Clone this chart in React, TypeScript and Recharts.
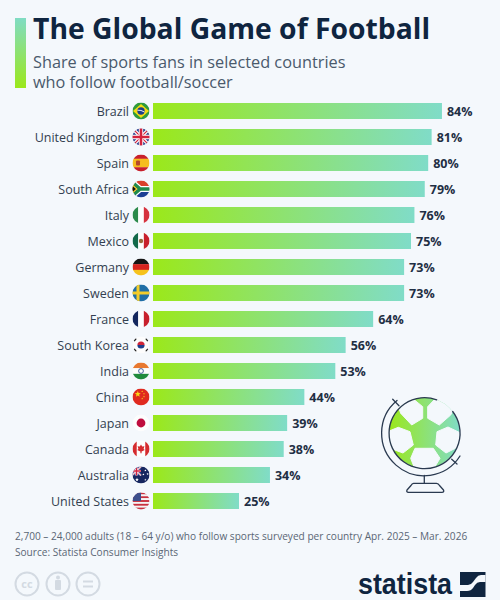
import { BarChart, Bar, XAxis, YAxis, LabelList } from "recharts";

const countries = ["Brazil", "United Kingdom", "Spain", "South Africa", "Italy", "Mexico", "Germany", "Sweden", "France", "South Korea", "India", "China", "Japan", "Canada", "Australia", "United States"];
const shares = [84, 81, 80, 79, 76, 75, 73, 73, 64, 56, 53, 44, 39, 38, 34, 25];
const rows = countries.map((country, i) => ({ country, share: shares[i] }));

const BG = "#f4f8fc";
const DARK = "#0f2540";
const R = 8.5;

// white panels of the ball on the globe
const hexagons = [
  "413.3,399 422.7,406.7 422.7,418.3 411.7,425 400.7,413.3 395,398",
  "435,399 427.7,406.7 427.7,418.3 439.3,425 450.7,415 454,408 445,396",
  "398.3,427.3 410,431.7 413.3,445 403,453 392,449 383,433.5",
  "448,427 437,431.7 435.7,445 446,453 458,447 467,436",
  "415,448.3 433.3,448.3 440,458.3 433.3,469.5 415,469.5 410.7,458.3",
];

const star = (cx: number, cy: number, r: number) => {
  const pts: string[] = [];
  for (let i = 0; i < 10; i++) {
    const a = -Math.PI / 2 + (i * Math.PI) / 5;
    const q = i % 2 ? r * 0.42 : r;
    pts.push(`${cx + q * Math.cos(a)},${cy + q * Math.sin(a)}`);
  }
  return pts.join(" ");
};

const Stripes = ({ colors }: { colors: string[] }) => (
  <>
    {colors.map((c, i) => (
      <rect key={i} x={-R} y={-R + (i * 2 * R) / colors.length} width={2 * R} height={(2 * R) / colors.length + 0.2} fill={c} />
    ))}
  </>
);

const Bands = ({ colors }: { colors: string[] }) => (
  <>
    {colors.map((c, i) => (
      <rect key={i} x={-R + (i * 2 * R) / colors.length} y={-R} width={(2 * R) / colors.length + 0.2} height={2 * R} fill={c} />
    ))}
  </>
);

const Union = () => (
  <>
    <rect x={-R} y={-R} width={2 * R} height={2 * R} fill="#283f8c" />
    <path d="M-9,-9L9,9M9,-9L-9,9" stroke="#fff" strokeWidth={3.4} />
    <path d="M-9,-9L9,9M9,-9L-9,9" stroke="#d4213d" strokeWidth={1.2} />
    <path d="M0,-9V9M-9,0H9" stroke="#fff" strokeWidth={4.4} />
    <path d="M0,-9V9M-9,0H9" stroke="#d4213d" strokeWidth={2.6} />
  </>
);

const flags: Record<string, () => React.ReactNode> = {
  Brazil: () => (
    <>
      <rect x={-R} y={-R} width={2 * R} height={2 * R} fill="#2f9b3c" />
      <polygon points="0,-7 8,0 0,7 -8,0" fill="#f4dc12" />
      <circle r={3.7} fill="#1f3f86" />
      <path d="M-3.6,-0.8Q0,-1.2 3.5,1" stroke="#fff" strokeWidth={0.9} fill="none" />
    </>
  ),
  "United Kingdom": () => <Union />,
  Spain: () => (
    <>
      <Stripes colors={["#c8202c", "#f5bd1e", "#f5bd1e", "#c8202c"]} />
      <rect x={-5} y={-2.6} width={4} height={5} rx={1} fill="#b5482a" />
    </>
  ),
  "South Africa": () => (
    <>
      <rect x={-R} y={-R} width={2 * R} height={R} fill="#d9412b" />
      <rect x={-R} y={0} width={2 * R} height={R} fill="#1c3f94" />
      <path d="M-9,-7L-1,0L-9,7M-1,0H9" stroke="#fff" strokeWidth={6} fill="none" />
      <path d="M-9,-7L-1,0L-9,7M-1,0H9" stroke="#1f8a4c" strokeWidth={3.6} fill="none" />
      <polygon points="-9,-5 -3.5,0 -9,5" fill="#f6c21c" />
      <polygon points="-9,-3.4 -5.2,0 -9,3.4" fill="#111" />
    </>
  ),
  Italy: () => <Bands colors={["#2b8a4b", "#fdfdfd", "#d6323e"]} />,
  Mexico: () => (
    <>
      <Bands colors={["#12694a", "#fdfdfd", "#c8202c"]} />
      <circle r={2.2} fill="#9a6a3a" />
    </>
  ),
  Germany: () => <Stripes colors={["#141414", "#d6231f", "#f6c21c"]} />,
  Sweden: () => (
    <>
      <rect x={-R} y={-R} width={2 * R} height={2 * R} fill="#1f6ea6" />
      <path d="M-3,-9V9M-9,0H9" stroke="#f3cc2a" strokeWidth={3} />
    </>
  ),
  France: () => <Bands colors={["#14275e", "#fdfdfd", "#c8202c"]} />,
  "South Korea": () => (
    <>
      <rect x={-R} y={-R} width={2 * R} height={2 * R} fill="#fdfdfd" />
      <path d="M-3.6,0A3.6,3.6 0 0 1 3.6,0Z" fill="#cf2539" />
      <path d="M-3.6,0A3.6,3.6 0 0 0 3.6,0Z" fill="#1c3f8c" />
      <path d="M-7,-4L-5,-6.5M-7,4L-5,6.5M7,-4L5,-6.5M7,4L5,6.5" stroke="#222" strokeWidth={1.8} />
    </>
  ),
  India: () => (
    <>
      <Stripes colors={["#e8782f", "#fdfdfd", "#1f8a3c"]} />
      <circle r={2.4} fill="none" stroke="#1f3f86" strokeWidth={0.8} />
    </>
  ),
  China: () => (
    <>
      <rect x={-R} y={-R} width={2 * R} height={2 * R} fill="#e02a1f" />
      <polygon points={star(-3.2, -2.8, 3.2)} fill="#f8d717" />
      <polygon points={star(1.2, -5.6, 1)} fill="#f8d717" />
      <polygon points={star(3, -3.2, 1)} fill="#f8d717" />
      <polygon points={star(3, -0.4, 1)} fill="#f8d717" />
      <polygon points={star(1.2, 1.6, 1)} fill="#f8d717" />
    </>
  ),
  Japan: () => (
    <>
      <circle r={R} fill="#fdfdfd" />
      <circle r={4.4} fill="#bf0d3e" />
    </>
  ),
  Canada: () => (
    <>
      <Bands colors={["#d52b2e", "#fdfdfd", "#fdfdfd", "#d52b2e"]} />
      <polygon points="0,-4.6 1.2,-2.4 3.4,-2.8 2.6,0 3.8,1 0.6,2.4 0.6,4.2 -0.6,4.2 -0.6,2.4 -3.8,1 -2.6,0 -3.4,-2.8 -1.2,-2.4" fill="#d52b2e" />
    </>
  ),
  Australia: () => (
    <>
      <rect x={-R} y={-R} width={2 * R} height={2 * R} fill="#16265f" />
      <g transform="translate(-4.5,-4) scale(0.5)">
        <Union />
      </g>
      <polygon points={star(-4, 4.6, 2)} fill="#fff" />
      <polygon points={star(4.4, -4.6, 1.2)} fill="#fff" />
      <polygon points={star(6.6, -1, 1.2)} fill="#fff" />
      <polygon points={star(2.4, -0.6, 1.2)} fill="#fff" />
      <polygon points={star(4.4, 4.8, 1.2)} fill="#fff" />
    </>
  ),
  "United States": () => (
    <>
      <Stripes colors={["#c8303e", "#f4f4f4", "#c8303e", "#f4f4f4", "#c8303e", "#f4f4f4", "#c8303e", "#f4f4f4", "#c8303e"]} />
      <rect x={-R} y={-R} width={R} height={R} fill="#3d4f8c" />
    </>
  ),
};

const CountryTick = ({ x, y, payload }: any) => (
  <g transform={`translate(${x},${y})`}>
    <text x={-24} y={1} dy="0.35em" textAnchor="end" fontSize={12.5} fill="#333f50" fontFamily="'Open Sans'">
      {payload.value}
    </text>
    <g transform="translate(-12,0)" clipPath="url(#flagClip)">
      {flags[payload.value]?.()}
    </g>
  </g>
);

export default function App() {
  return (
    <div style={{ position: "absolute", left: 0, top: 0, width: 500, height: 600, background: BG, overflow: "hidden", fontFamily: "'Open Sans'" }}>
      <style>{"body{margin:0}"}</style>
      <div style={{ position: "absolute", left: 15, top: 18, width: 11, height: 70, background: "linear-gradient(#80dcc4,#9be81a)" }} />
      <div style={{ position: "absolute", left: 33, top: 8, fontSize: 28.3, fontWeight: 700, color: DARK, whiteSpace: "nowrap", lineHeight: "40px" }}>
        The Global Game of Football
      </div>
      <div style={{ position: "absolute", left: 33, top: 52, fontSize: 16.3, color: "#4a5a6c", lineHeight: "20px", whiteSpace: "nowrap" }}>
        Share of sports fans in selected countries
        <br />
        who follow football/soccer
      </div>

      <BarChart
        width={500}
        height={600}
        data={rows}
        layout="vertical"
        margin={{ top: 98, right: 3, bottom: 86, left: 0 }}
        style={{ position: "absolute", left: 0, top: 0 }}
      >
        <defs>
          <linearGradient id="barFill" x1="0" y1="0" x2="1" y2="0">
            <stop offset="0" stopColor="#9be81a" />
            <stop offset="1" stopColor="#80dcc8" />
          </linearGradient>
          <clipPath id="flagClip">
            <circle r={R} />
          </clipPath>
        </defs>
        <XAxis type="number" domain={[0, 100]} hide />
        <YAxis type="category" dataKey="country" width={153} axisLine={false} tickLine={false} tickMargin={0} tickSize={0} interval={0} tick={<CountryTick />} />
        <Bar dataKey="share" barSize={16} fill="url(#barFill)" isAnimationActive={false}>
          <LabelList dataKey="share" position="right" offset={5} dy={1} formatter={(v: any) => `${v}%`} style={{ fontSize: 12.5, fontWeight: 700, fill: "#1f2f44", fontFamily: "'Open Sans'" }} />
        </Bar>
      </BarChart>

      <svg width={500} height={600} style={{ position: "absolute", left: 0, top: 0, pointerEvents: "none" }}>
        <defs>
          <linearGradient id="ballFill" x1="0" y1="0" x2="1" y2="0">
            <stop offset="0" stopColor="#9be81a" />
            <stop offset="1" stopColor="#80dcc8" />
          </linearGradient>
          <clipPath id="ballClip">
            <circle cx={424.5} cy={433} r={35.5} />
          </clipPath>
        </defs>
        <circle cx={424.5} cy={433} r={35.5} fill="url(#ballFill)" />
        <g clipPath="url(#ballClip)">
          {hexagons.map((p) => (
            <polygon key={p} points={p} fill={BG} stroke={BG} strokeWidth={1} strokeLinejoin="round" />
          ))}
        </g>
        <g fill="none" stroke="#2a3a50" strokeWidth={1.3} strokeLinecap="round" strokeLinejoin="round">
          <path d="M436.7,399.8A35.5,35.5 0 1 0 452.7,411.5" />
          <path d="M397,400.5A42.5,42.5 0 1 0 460,456" />
          <path d="M392.7,399.3L399,405.7M451.7,459.3L457,464" />
          <path d="M424.3,475.5V483" />
          <path d="M413.5,483.3H436.5Q438.5,483.3 439.5,485.5L443.5,490Q444.5,492.3 442,492.3H408.5Q406,492.3 407,490L411,485.5Q412,483.3 413.5,483.3Z" />
        </g>
      </svg>

      <div style={{ position: "absolute", left: 15, top: 528, fontSize: 10.1, color: "#5a6675", lineHeight: "16px", whiteSpace: "nowrap" }}>
        2,700 – 24,000 adults (18 – 64 y/o) who follow sports surveyed per country Apr. 2025 – Mar. 2026
        <br />
        Source: Statista Consumer Insights
      </div>

      <svg width={500} height={600} style={{ position: "absolute", left: 0, top: 0 }}>
        <g fill="none" stroke="#d3dae2" strokeWidth={2}>
          <circle cx={27} cy={584} r={11.5} />
          <circle cx={58} cy={584} r={11.5} />
          <circle cx={88} cy={584} r={11.5} />
        </g>
        <text x={27} y={588} textAnchor="middle" fontSize={11} fontWeight={700} fill="#d3dae2" fontFamily="'Open Sans'">cc</text>
        <circle cx={58} cy={577.5} r={2} fill="#d3dae2" />
        <rect x={55} y={580} width={6} height={10} rx={1} fill="#d3dae2" />
        <path d="M83,581.5H93M83,586.5H93" stroke="#d3dae2" strokeWidth={2} />
        <text x={358} y={593.8} fontSize={29} fontWeight={700} fill={DARK} fontFamily="'Liberation Sans'" textLength={94} lengthAdjust="spacingAndGlyphs">statista</text>
        <rect x={460} y={572} width={25.5} height={25} fill={DARK} />
        <path d="M460,585H468Q471,585 473,582L476,578Q478,575 481,575H485.5V582H480Q477,582 475,585L473,588Q471,591 467,591H460Z" fill={BG} />
      </svg>
    </div>
  );
}
